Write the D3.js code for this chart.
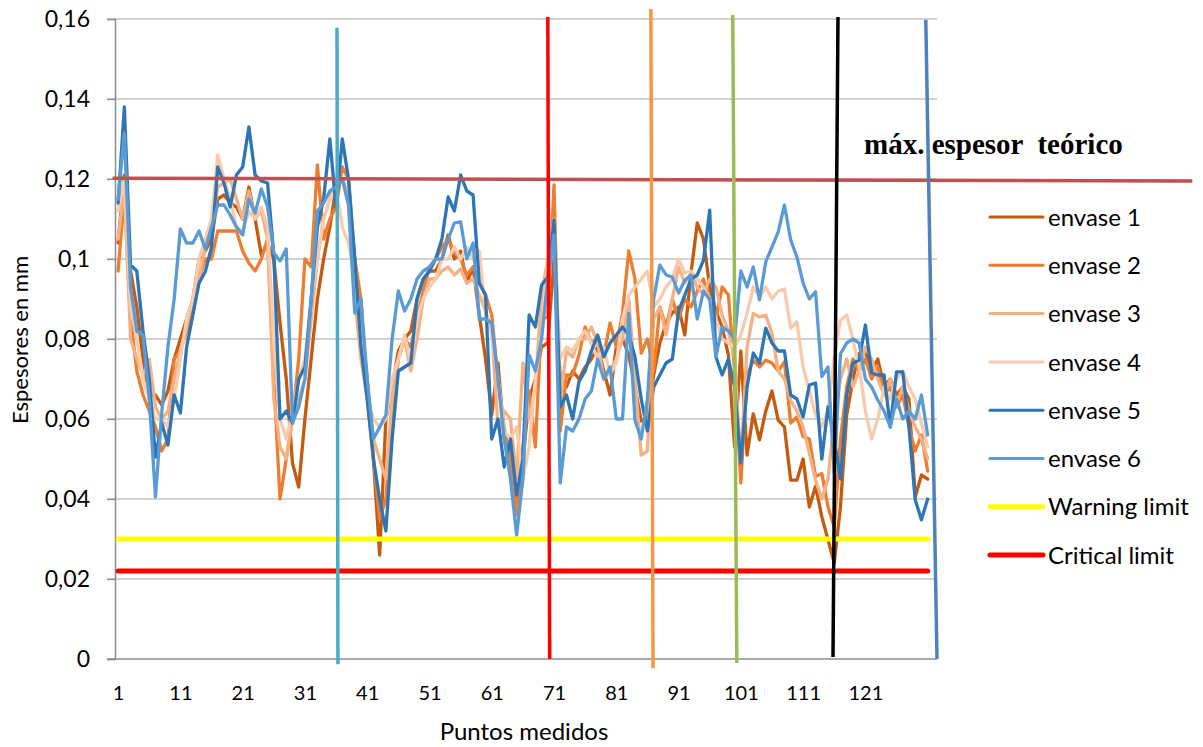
<!DOCTYPE html>
<html>
<head>
<meta charset="utf-8">
<script src="https://cdn.jsdelivr.net/npm/d3@7"></script>
<style>
  body { margin: 0; background: #fff; }
  text { font-family: Lato, "Noto Sans", sans-serif; fill: #000; }
</style>
</head>
<body>
<svg id="chart"></svg>
<script>
// Data
const seriesNames = ["envase 1", "envase 2", "envase 3", "envase 4", "envase 5", "envase 6"];
const seriesColors = ["#C55A11", "#ED7D31", "#F4B183", "#F8CBAD", "#2E75B6", "#5B9BD5"];

const envase1 = [0.104, 0.121, 0.097, 0.088, 0.075, 0.066, 0.066, 0.0635, 0.067, 0.075,
  0.08, 0.085, 0.09, 0.1, 0.102, 0.105, 0.115, 0.116, 0.114, 0.113,
  0.11, 0.118, 0.11, 0.101, 0.104, 0.1, 0.084, 0.07, 0.049, 0.043,
  0.06, 0.075, 0.09, 0.1, 0.108, 0.118, 0.12, 0.115, 0.1, 0.085,
  0.07, 0.05, 0.026, 0.06, 0.068, 0.077, 0.08, 0.082, 0.09, 0.095,
  0.097, 0.097, 0.1, 0.106, 0.1, 0.102, 0.094, 0.098, 0.086, 0.075,
  0.061, 0.074, 0.055, 0.048, 0.037, 0.05, 0.065, 0.07, 0.078, 0.079,
  0.1, 0.07, 0.068, 0.072, 0.07, 0.073, 0.075, 0.078, 0.072, 0.066,
  0.078, 0.08, 0.076, 0.068, 0.0595, 0.06, 0.071, 0.079, 0.084, 0.0865,
  0.088, 0.081, 0.0965, 0.109, 0.105, 0.093, 0.087, 0.083, 0.076, 0.053,
  0.077, 0.051, 0.0613, 0.0548, 0.062, 0.067, 0.0597, 0.058, 0.0447, 0.0447,
  0.05, 0.038, 0.0432, 0.0356, 0.0298, 0.024, 0.0381, 0.061, 0.07, 0.0764,
  0.077, 0.072, 0.075, 0.068, 0.07, 0.066, 0.068, 0.065, 0.0405, 0.046, 0.045];

const envase2 = [0.097, 0.116, 0.085, 0.072, 0.066, 0.062, 0.058, 0.052, 0.055, 0.075,
  0.077, 0.082, 0.088, 0.095, 0.1, 0.1, 0.107, 0.107, 0.107, 0.107,
  0.102, 0.099, 0.097, 0.1, 0.105, 0.07, 0.04, 0.05, 0.06, 0.075,
  0.1, 0.098, 0.1235, 0.105, 0.11, 0.113, 0.123, 0.12, 0.1, 0.09,
  0.065, 0.05, 0.035, 0.04, 0.06, 0.075, 0.08, 0.078, 0.085, 0.092,
  0.098, 0.1, 0.103, 0.105, 0.1015, 0.1, 0.096, 0.098, 0.094, 0.091,
  0.086, 0.07, 0.058, 0.05, 0.036, 0.053, 0.067, 0.053, 0.085, 0.0855,
  0.1185, 0.057, 0.071, 0.071, 0.076, 0.083, 0.079, 0.08, 0.076, 0.084,
  0.078, 0.0865, 0.102, 0.095, 0.0765, 0.08, 0.072, 0.088, 0.083, 0.09,
  0.085, 0.09, 0.088, 0.092, 0.095, 0.09, 0.085, 0.093, 0.091, 0.072,
  0.044, 0.071, 0.0747, 0.073, 0.0747, 0.074, 0.072, 0.0743, 0.059, 0.0605,
  0.0556, 0.055, 0.0456, 0.0464, 0.038, 0.033, 0.055, 0.068, 0.075, 0.072,
  0.075, 0.07, 0.073, 0.066, 0.068, 0.063, 0.066, 0.058, 0.052, 0.056, 0.047];

const envase3 = [0.105, 0.118, 0.08, 0.075, 0.071, 0.075, 0.063, 0.06, 0.062, 0.07,
  0.077, 0.083, 0.09, 0.095, 0.103, 0.108, 0.118, 0.119, 0.12, 0.115,
  0.11, 0.117, 0.11, 0.112, 0.105, 0.065, 0.053, 0.05, 0.06, 0.065,
  0.07, 0.085, 0.1, 0.11, 0.115, 0.12, 0.12, 0.115, 0.09, 0.075,
  0.065, 0.055, 0.05, 0.045, 0.065, 0.075, 0.08, 0.072, 0.08, 0.09,
  0.095, 0.095, 0.097, 0.098, 0.096, 0.0975, 0.094, 0.095, 0.091, 0.087,
  0.082, 0.058, 0.062, 0.06, 0.045, 0.074, 0.06, 0.068, 0.091, 0.1,
  0.11, 0.065, 0.077, 0.0755, 0.08, 0.08, 0.083, 0.079, 0.07, 0.072,
  0.075, 0.08, 0.09, 0.07, 0.051, 0.052, 0.085, 0.088, 0.081, 0.09,
  0.098, 0.094, 0.0965, 0.093, 0.091, 0.095, 0.093, 0.086, 0.082, 0.075,
  0.049, 0.078, 0.0864, 0.0855, 0.086, 0.0814, 0.072, 0.07, 0.0647, 0.062,
  0.058, 0.0514, 0.0447, 0.04, 0.045, 0.06, 0.07, 0.075, 0.068, 0.072,
  0.078, 0.075, 0.07, 0.066, 0.07, 0.064, 0.068, 0.062, 0.058, 0.055, 0.05];

const envase4 = [0.112, 0.12, 0.088, 0.08, 0.07, 0.065, 0.06, 0.06, 0.058, 0.065,
  0.075, 0.085, 0.09, 0.1, 0.105, 0.11, 0.126, 0.12, 0.115, 0.108,
  0.107, 0.112, 0.11, 0.113, 0.108, 0.08, 0.06, 0.055, 0.062, 0.07,
  0.075, 0.09, 0.1, 0.11, 0.115, 0.118, 0.108, 0.104, 0.095, 0.08,
  0.065, 0.06, 0.058, 0.06, 0.07, 0.075, 0.081, 0.074, 0.085, 0.09,
  0.093, 0.095, 0.1, 0.1, 0.103, 0.1, 0.103, 0.1, 0.102, 0.087,
  0.081, 0.07, 0.057, 0.055, 0.058, 0.045, 0.053, 0.07, 0.081, 0.1,
  0.105, 0.075, 0.078, 0.077, 0.08, 0.082, 0.079, 0.075, 0.078, 0.071,
  0.074, 0.085, 0.091, 0.093, 0.095, 0.097, 0.088, 0.09, 0.093, 0.095,
  0.1, 0.0965, 0.097, 0.095, 0.093, 0.09, 0.085, 0.08, 0.079, 0.078,
  0.081, 0.0864, 0.093, 0.0905, 0.093, 0.09, 0.092, 0.0925, 0.0827, 0.0843,
  0.073, 0.0672, 0.061, 0.058, 0.062, 0.0755, 0.0847, 0.086, 0.0797, 0.073,
  0.062, 0.055, 0.06, 0.068, 0.065, 0.07, 0.072, 0.068, 0.065, 0.059, 0.053];

const envase5 = [0.114, 0.138, 0.0985, 0.097, 0.082, 0.07, 0.0505, 0.059, 0.0535, 0.066,
  0.0615, 0.078, 0.086, 0.094, 0.0968, 0.103, 0.123, 0.119, 0.113, 0.121,
  0.123, 0.133, 0.121, 0.1195, 0.119, 0.101, 0.06, 0.062, 0.059, 0.07,
  0.073, 0.09, 0.108, 0.115, 0.13, 0.113, 0.13, 0.12, 0.1, 0.078,
  0.065, 0.05, 0.04, 0.032, 0.055, 0.072, 0.073, 0.074, 0.09, 0.095,
  0.097, 0.1, 0.105, 0.1155, 0.112, 0.121, 0.117, 0.116, 0.094, 0.091,
  0.055, 0.06, 0.048, 0.055, 0.041, 0.05, 0.086, 0.083, 0.0935, 0.0955,
  0.1097, 0.063, 0.066, 0.06, 0.0693, 0.072, 0.077, 0.081, 0.0755, 0.079,
  0.081, 0.083, 0.081, 0.0755, 0.065, 0.057, 0.068, 0.071, 0.074, 0.075,
  0.087, 0.091, 0.095, 0.096, 0.0997, 0.1122, 0.0755, 0.071, 0.075, 0.068,
  0.049, 0.068, 0.0765, 0.074, 0.0827, 0.079, 0.077, 0.077, 0.066, 0.065,
  0.0605, 0.0685, 0.069, 0.05, 0.063, 0.055, 0.045, 0.066, 0.074, 0.0747,
  0.0835, 0.0715, 0.071, 0.071, 0.058, 0.0718, 0.0718, 0.058, 0.0398, 0.0348, 0.04];

const envase6 = [0.115, 0.1315, 0.093, 0.082, 0.081, 0.065, 0.0405, 0.0615, 0.078, 0.09,
  0.1075, 0.104, 0.104, 0.107, 0.1025, 0.108, 0.1135, 0.1135, 0.111, 0.108,
  0.106, 0.115, 0.1115, 0.1175, 0.113, 0.1015, 0.0995, 0.1025, 0.059, 0.063,
  0.07, 0.09, 0.112, 0.114, 0.117, 0.118, 0.12, 0.1135, 0.0865, 0.09,
  0.07, 0.055, 0.058, 0.061, 0.08, 0.092, 0.087, 0.09, 0.095, 0.097,
  0.098, 0.1, 0.1, 0.105, 0.109, 0.1093, 0.1, 0.104, 0.085, 0.085,
  0.084, 0.07, 0.055, 0.045, 0.031, 0.045, 0.076, 0.072, 0.08, 0.095,
  0.106, 0.044, 0.058, 0.057, 0.06, 0.065, 0.067, 0.075, 0.07, 0.073,
  0.06, 0.06, 0.0864, 0.0597, 0.055, 0.065, 0.09, 0.0985, 0.096, 0.0955,
  0.0915, 0.0947, 0.096, 0.085, 0.092, 0.0898, 0.0755, 0.083, 0.082, 0.08,
  0.097, 0.093, 0.098, 0.0898, 0.0993, 0.103, 0.1068, 0.1135, 0.1048, 0.1005,
  0.094, 0.09, 0.0918, 0.0706, 0.073, 0.0465, 0.0763, 0.079, 0.08, 0.079,
  0.07, 0.068, 0.0647, 0.062, 0.058, 0.065, 0.06, 0.062, 0.06, 0.066, 0.056];

const seriesValues = [envase1, envase2, envase3, envase4, envase5, envase6];

// limit lines (constant series)
const limitNames = ["Warning limit", "Critical limit"];
const limitValues = [0.03, 0.022];
const limitColors = ["#FFFF00", "#FF0000"];

// max theoretical thickness line (drawn shape), in data units
const maxLine = { x1: 0.1, y1: 0.1202, x2: 173.5, y2: 0.1195 };
const maxLabel = "máx. espesor  teórico";

// vertical marker lines, in data units
const markers = [
  { x1: 36.15, y1: 0.1578, x2: 36.3, y2: -0.0013, color: "#4BACC6" },
  { x1: 70.0, y1: 0.1605, x2: 70.3, y2: 0.0, color: "#FF0000" },
  { x1: 86.55, y1: 0.1625, x2: 86.9, y2: -0.0023, color: "#F79646" },
  { x1: 99.7, y1: 0.161, x2: 100.35, y2: -0.001, color: "#9BBB59" },
  { x1: 116.6, y1: 0.1605, x2: 115.8, y2: 0.0005, color: "#000000" },
  { x1: 130.7, y1: 0.1598, x2: 132.5, y2: 0.0, color: "#4F81BD" }
];

const xTicks = [1, 11, 21, 31, 41, 51, 61, 71, 81, 91, 101, 111, 121];
const yTicks = [0, 0.02, 0.04, 0.06, 0.08, 0.1, 0.12, 0.14, 0.16];

// Configuration
const W = 1203, H = 747;
const plot = { left: 115, right: 937, top: 19, bottom: 659 };

const svg = d3.select("#chart").attr("width", W).attr("height", H);

const x = d3.scaleLinear().domain([0.5, 132.5]).range([plot.left, plot.right]);
const y = d3.scaleLinear().domain([0, 0.16]).range([plot.bottom, plot.top]);

const comma = d3.formatLocale({ decimal: ",", thousands: ".", grouping: [3], currency: ["", ""] }).format("~g");

// Gridlines
svg.append("g")
  .selectAll("line")
  .data(yTicks.filter(d => d > 0))
  .join("line")
  .attr("x1", plot.left - 8).attr("x2", plot.right)
  .attr("y1", d => y(d)).attr("y2", d => y(d))
  .attr("stroke", "#a6a6a6").attr("stroke-width", 1.2);

// Axes
const yAxis = svg.append("g")
  .attr("transform", `translate(${plot.left},0)`)
  .call(d3.axisLeft(y).tickValues(yTicks).tickSize(8).tickPadding(17).tickFormat(comma));
yAxis.select(".domain").attr("stroke", "#8c8c8c").attr("stroke-width", 1.5);
yAxis.selectAll(".tick line").attr("stroke", "#8c8c8c").attr("stroke-width", 1.2);
yAxis.selectAll("text").style("font-size", "23px").style("font-family", "Lato");

const xAxis = svg.append("g")
  .attr("transform", `translate(0,${plot.bottom})`)
  .call(d3.axisBottom(x).tickValues(xTicks).tickSize(0).tickPadding(27).tickSizeOuter(0));
xAxis.select(".domain").attr("stroke", "#8c8c8c").attr("stroke-width", 1.5)
  .attr("d", `M${plot.left - 8},0H${plot.right}`);
xAxis.selectAll("text").style("font-size", "20px").style("font-family", "Lato");

// Axis titles
svg.append("text")
  .attr("x", 524).attr("y", 740)
  .attr("text-anchor", "middle")
  .style("font-size", "24px")
  .text("Puntos medidos");

svg.append("text")
  .attr("transform", `translate(28,${(plot.top + plot.bottom) / 2 + 1}) rotate(-90)`)
  .attr("text-anchor", "middle")
  .style("font-size", "22px")
  .text("Espesores en mm");

// Series lines
const line = d3.line()
  .x((d, i) => x(i + 1))
  .y(d => y(d));

svg.append("g")
  .selectAll("path")
  .data(seriesValues)
  .join("path")
  .attr("d", line)
  .attr("fill", "none")
  .attr("stroke", (d, i) => seriesColors[i])
  .attr("stroke-width", 3.3)
  .attr("stroke-linejoin", "round")
  .attr("stroke-linecap", "round");

// Limit lines
const nPoints = envase1.length;
svg.append("g")
  .selectAll("line")
  .data(limitValues)
  .join("line")
  .attr("x1", x(1)).attr("x2", x(nPoints))
  .attr("y1", d => y(d)).attr("y2", d => y(d))
  .attr("stroke", (d, i) => limitColors[i])
  .attr("stroke-width", 5)
  .attr("stroke-linecap", "round");

// Theoretical maximum line and its label
svg.append("line")
  .attr("x1", x(maxLine.x1)).attr("y1", y(maxLine.y1))
  .attr("x2", x(maxLine.x2)).attr("y2", y(maxLine.y2))
  .attr("stroke", "#C0504D").attr("stroke-width", 3.5);

svg.append("text")
  .attr("x", 864).attr("y", 154)
  .style("font-family", "'Liberation Serif', 'DejaVu Serif', serif")
  .style("font-weight", "bold")
  .style("font-size", "29px")
  .style("white-space", "pre")
  .attr("xml:space", "preserve")
  .text(maxLabel);

// Vertical markers
svg.append("g")
  .selectAll("line")
  .data(markers)
  .join("line")
  .attr("x1", d => x(d.x1)).attr("y1", d => y(d.y1))
  .attr("x2", d => x(d.x2)).attr("y2", d => y(d.y2))
  .attr("stroke", d => d.color)
  .attr("stroke-width", 3.5);

// Legend
const legendItems = seriesNames.map((n, i) => ({ name: n, color: seriesColors[i], width: 3 }))
  .concat(limitNames.map((n, i) => ({ name: n, color: limitColors[i], width: 5 })));

const legend = svg.append("g")
  .selectAll("g")
  .data(legendItems)
  .join("g")
  .attr("transform", (d, i) => `translate(990,${217 + i * 48.3})`);

legend.append("line")
  .attr("x1", 0).attr("x2", 53)
  .attr("stroke", d => d.color)
  .attr("stroke-width", d => d.width)
  .attr("stroke-linecap", "round");

legend.append("text")
  .attr("x", 58).attr("dy", "0.36em")
  .style("font-size", "24px")
  .text(d => d.name);
</script>
</body>
</html>
